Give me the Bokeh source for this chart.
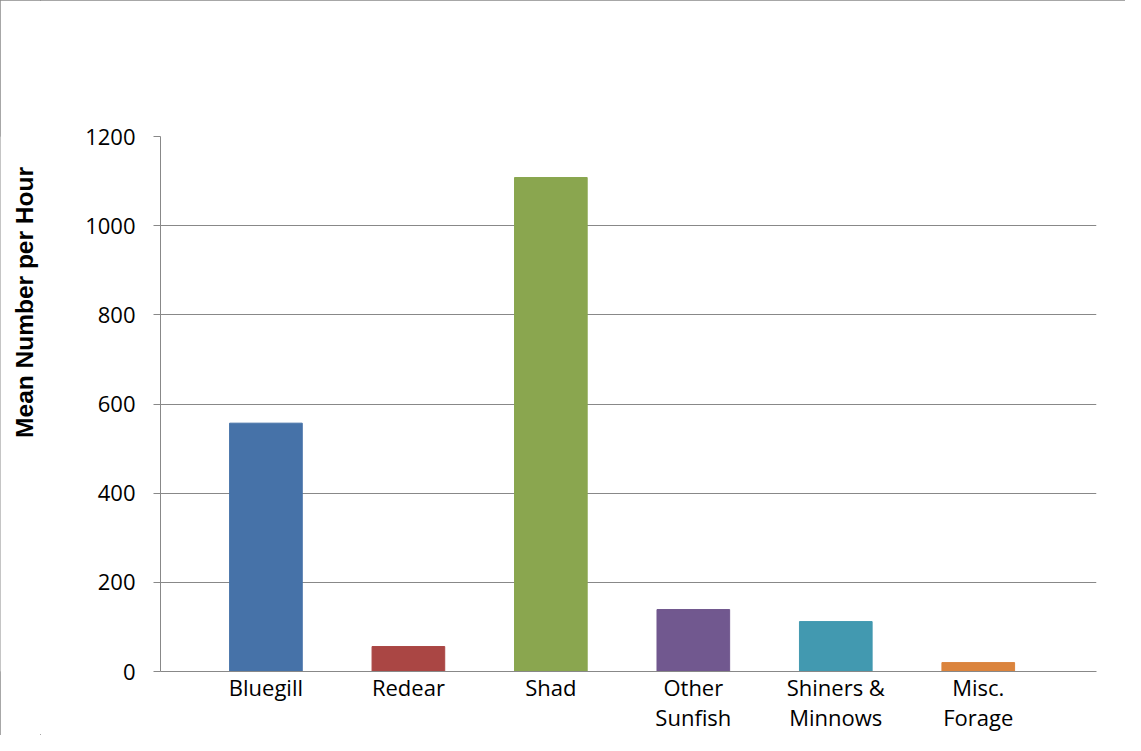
import math
from bokeh.plotting import figure
from bokeh.layouts import row
from bokeh.models import Range1d, ColumnDataSource, FixedTicker
from bokeh.core.properties import value
from bokeh.embed import file_html
from bokeh.resources import INLINE

# ---- data ----
categories = ["Bluegill", "Redear", "Shad", "Other\nSunfish", "Shiners &\nMinnows", "Misc.\nForage"]
values = [557, 56, 1108, 139, 112, 20]
bar_colors = ["#4672A8", "#AA4644", "#8AA64F", "#71588F", "#4299B0", "#DB843D"]
y_ticks = [0, 200, 400, 600, 800, 1000, 1200]
y_title = "Mean Number per Hour"

xs = list(range(len(categories)))
src = ColumnDataSource(dict(x=xs, top=values, color=bar_colors))

TOTAL_W, TOTAL_H, STRIP_W = 1125, 735, 40

# ---- narrow strip holding the vertical axis title ----
t = figure(width=STRIP_W, height=TOTAL_H, output_backend="svg", toolbar_location=None,
           title=None, x_axis_type=None, y_axis_type=None,
           x_range=Range1d(0, STRIP_W), y_range=Range1d(0, TOTAL_H),
           min_border=0, min_border_left=0, min_border_right=0,
           min_border_top=0, min_border_bottom=0)
t.grid.visible = False
t.outline_line_color = None
t.background_fill_color = "white"
t.border_fill_color = "white"
t.text(x=[24], y=[TOTAL_H - 228], text=[y_title], angle=math.pi / 2,
       text_align="center", text_baseline="middle",
       text_font=value("Liberation Sans"), text_font_style="bold",
       text_font_size="24.5px", text_color="#000000")

# ---- main chart ----
p = figure(width=TOTAL_W - STRIP_W, height=TOTAL_H, output_backend="svg", toolbar_location=None,
           title=None, x_range=Range1d(-0.74, 5.83), y_range=Range1d(0, 1200),
           min_border_left=120, min_border_right=29, min_border_top=136,
           min_border_bottom=63)
p.outline_line_color = None
p.background_fill_color = "white"
p.border_fill_color = "white"

p.vbar(x="x", top="top", width=0.51, color="color", source=src)

# y axis
p.yaxis.ticker = FixedTicker(ticks=y_ticks)
p.yaxis.axis_line_color = "#888888"
p.yaxis.major_tick_line_color = "#888888"
p.yaxis.major_tick_out = 7
p.yaxis.major_tick_in = 0
p.yaxis.minor_tick_line_color = None
p.yaxis.major_label_standoff = 18
p.yaxis.major_label_text_font = "Open Sans"
p.yaxis.major_label_text_font_size = "22px"
p.yaxis.major_label_text_color = "#000000"

# x axis with category names
p.xaxis.ticker = FixedTicker(ticks=xs)
p.xaxis.major_label_overrides = {i: c for i, c in zip(xs, categories)}
p.xaxis.axis_line_color = "#888888"
p.xaxis.major_tick_line_color = None
p.xaxis.minor_tick_line_color = None
p.xaxis.major_tick_out = 0
p.xaxis.major_tick_in = 0
p.xaxis.major_label_standoff = 0
p.xaxis.major_label_text_font = "Open Sans"
p.xaxis.major_label_text_font_size = "22px"
p.xaxis.major_label_text_color = "#000000"
p.xaxis.major_label_text_line_height = 1.02

p.xgrid.visible = False
p.ygrid.ticker = FixedTicker(ticks=y_ticks)
p.ygrid.grid_line_color = "#888888"
p.ygrid.grid_line_width = 1

layout = row(t, p, spacing=0)
layout.styles = {"outline": "1px solid #8a8a8a", "outline-offset": "-1px"}

open("out.html", "w").write(file_html(layout, INLINE))
